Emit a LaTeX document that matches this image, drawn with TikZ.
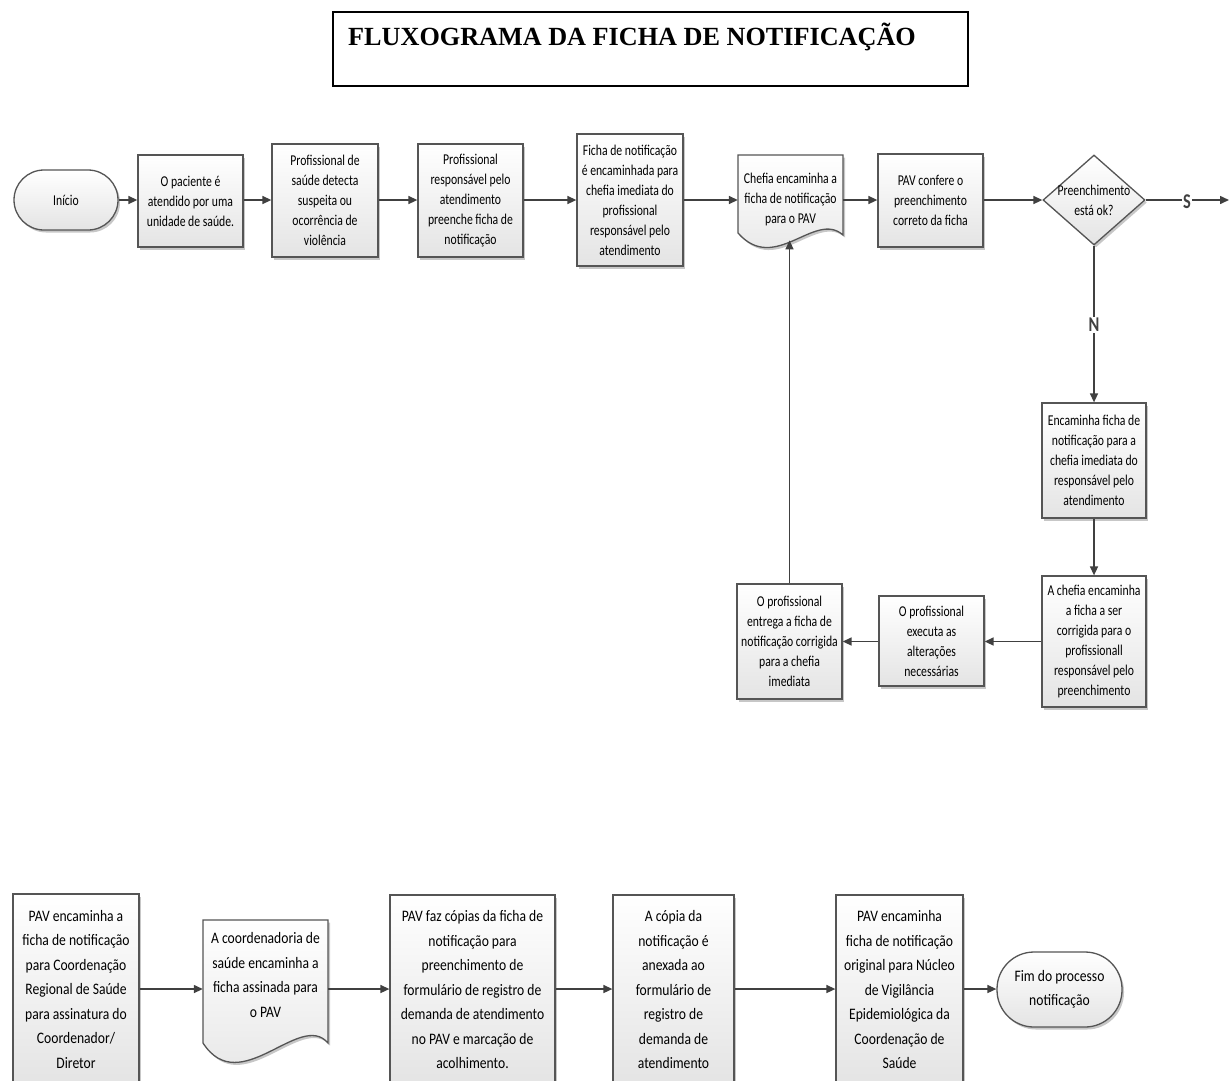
\documentclass[tikz,border=0pt]{standalone}
\usepackage{fontspec}
\setmainfont{Carlito}
\newfontfamily\topf[FakeStretch=0.78]{Carlito}
\newfontfamily\botf[FakeStretch=0.85]{Carlito}
\newfontfamily\titlef{Liberation Serif}
\usetikzlibrary{arrows.meta,shapes.geometric,shadows,shadings}
\definecolor{bordc}{RGB}{85,85,85}
\definecolor{fillb}{RGB}{228,228,228}
\definecolor{arrc}{RGB}{64,64,64}
\tikzset{
  shade/.style={draw=bordc, line width=1.3pt, top color=white, bottom color=fillb,
    drop shadow={shadow xshift=2pt, shadow yshift=-2.5pt, fill=black, opacity=0.22}},
  box/.style={rectangle, shade, align=center, inner sep=0pt},
  tfont/.style={font=\topf\fontsize{15}{20}\selectfont},
  bfont/.style={font=\botf\fontsize{16}{24.5}\selectfont},
  tbox/.style={box, tfont},
  bbox/.style={box, bfont},
  ghost/.style={rectangle, inner sep=0pt, align=center},
  arr/.style={-{Triangle[length=9pt,width=8pt]}, draw=arrc, line width=1.5pt},
  yn/.style={fill=white, inner sep=1.5pt, font=\topf\bfseries\fontsize{21}{22}\selectfont, text=arrc},
}
\begin{document}
\begin{tikzpicture}[x=1pt,y=-1pt]
\useasboundingbox (0,0) rectangle (1230,1080);
\clip (0,0) rectangle (1230,1080);
\fill[white] (0,0) rectangle (1230,1080);

% title
\node[draw=black, line width=1.5pt, minimum width=635pt, minimum height=74pt, inner sep=0pt] (tbx) at (650.5,49) {};
\node[anchor=west, inner sep=0pt, font=\titlef\bfseries\fontsize{26.2}{30}\selectfont] (title) at (348,37) {FLUXOGRAMA DA FICHA DE NOTIFICAÇÃO};

% top row
\node[box, tfont, rounded corners=30pt, minimum width=104pt, minimum height=60pt] (ini) at (66,200) {Início};
\node[tbox, minimum width=105pt, minimum height=92pt] (b1) at (190.5,201) {O paciente é\\atendido por uma\\unidade de saúde.};
\node[tbox, minimum width=106pt, minimum height=113pt] (b2) at (325,200.5) {Profissional de\\saúde detecta\\suspeita ou\\ocorrência de\\violência};
\node[tbox, minimum width=105pt, minimum height=113pt] (b3) at (470.5,200.5) {Profissional\\responsável pelo\\atendimento\\preenche ficha de\\notificação};
\node[tbox, minimum width=106pt, minimum height=132pt] (b4) at (630,200) {Ficha de notificação\\é encaminhada para\\chefia imediata do\\profissional\\responsável pelo\\atendimento};

\path[shade] (738,155) -- (843,155) -- (843,235) .. controls (815,210) and (775,275) .. (738,233) coordinate[pos=0.5] (d1b) -- cycle;
\node[ghost, tfont, minimum width=105pt, minimum height=90pt] (doc1) at (790.5,199) {Chefia encaminha a\\ficha de notificação\\para o PAV};

\node[tbox, minimum width=105pt, minimum height=93pt] (pavc) at (930.5,200.5) {PAV confere o\\preenchimento\\correto da ficha};
\node[diamond, shade, inner sep=0pt, minimum width=102pt, minimum height=90pt,
  label={[tfont, align=center]center:Preenchimento\\está ok?}] (dia) at (1094,200) {};
\coordinate (send) at (1229,200);

\node[tbox, minimum width=104pt, minimum height=115pt] (enc) at (1094,460.5) {Encaminha ficha de\\notificação para a\\chefia imediata do\\responsável pelo\\atendimento};
\node[tbox, minimum width=104pt, minimum height=131pt] (ach) at (1094,641.5) {A chefia encaminha\\a ficha a ser\\corrigida para o\\profissionall\\responsável pelo\\preenchimento};
\node[tbox, minimum width=105pt, minimum height=90pt] (exe) at (931.5,641) {O profissional\\executa as\\alterações\\necessárias};
\node[tbox, minimum width=105pt, minimum height=115pt] (ent) at (789.5,641.5) {O profissional\\entrega a ficha de\\notificação corrigida\\para a chefia\\imediata};

% top arrows
\draw[arr] (ini.east) -- (b1.west |- ini.east);
\draw[arr] (b1.east |- ini.east) -- (b2.west |- ini.east);
\draw[arr] (b2.east |- ini.east) -- (b3.west |- ini.east);
\draw[arr] (b3.east |- ini.east) -- (b4.west |- ini.east);
\draw[arr] (b4.east |- ini.east) -- (doc1.west |- ini.east);
\draw[arr] (doc1.east |- ini.east) -- (pavc.west |- ini.east);
\draw[arr] (pavc.east |- ini.east) -- (dia.west);
\draw[arr] (dia.east) -- (send);
\node[yn] (s) at (1187,202) {S};
\draw[arr] (dia.south) -- (enc.north);
\node[yn] (n) at (1094,325) {N};
\draw[arr] (enc.south) -- (ach.north);
\draw[arr] (ach.west) -- (exe.east |- ach.west);
\draw[arr] (exe.west |- ach.west) -- (ent.east |- ach.west);
\draw[arr] (ent.north) -- (ent.north |- d1b);

% bottom row
\node[bbox, minimum width=126pt, minimum height=190pt] (ba) at (76,989) {PAV encaminha a\\ficha de notificação\\para Coordenação\\Regional de Saúde\\para assinatura do\\Coordenador/\\Diretor};
\path[shade] (203,920) -- (328,920) -- (328,1043) .. controls (300,1010) and (240,1100) .. (203,1043) -- cycle;
\node[ghost, bfont, minimum width=125pt, minimum height=100pt] (docb) at (265.5,975) {A coordenadoria de\\saúde encaminha a\\ficha assinada para\\o PAV};
\node[bbox, minimum width=165pt, minimum height=189pt] (bc) at (472.5,989.5) {PAV faz cópias da ficha de\\notificação para\\preenchimento de\\formulário de registro de\\demanda de atendimento\\no PAV e marcação de\\acolhimento.};
\node[bbox, minimum width=121pt, minimum height=189pt] (bd) at (673.5,989.5) {A cópia da\\notificação é\\anexada ao\\formulário de\\registro de\\demanda de\\atendimento};
\node[bbox, minimum width=127pt, minimum height=189pt] (be) at (899.5,989.5) {PAV encaminha\\ficha de notificação\\original para Núcleo\\de Vigilância\\Epidemiológica da\\Coordenação de\\Saúde};
\node[box, bfont, rounded corners=37pt, minimum width=125pt, minimum height=75pt] (fim) at (1059.5,989.5) {\fontsize{16}{22}\selectfont Fim do processo\\notificação};

\draw[arr] (ba.east) -- (docb.west |- ba.east);
\draw[arr] (docb.east |- ba.east) -- (bc.west |- ba.east);
\draw[arr] (bc.east |- ba.east) -- (bd.west |- ba.east);
\draw[arr] (bd.east |- ba.east) -- (be.west |- ba.east);
\draw[arr] (be.east |- ba.east) -- (fim.west |- ba.east);
\end{tikzpicture}
\end{document}
